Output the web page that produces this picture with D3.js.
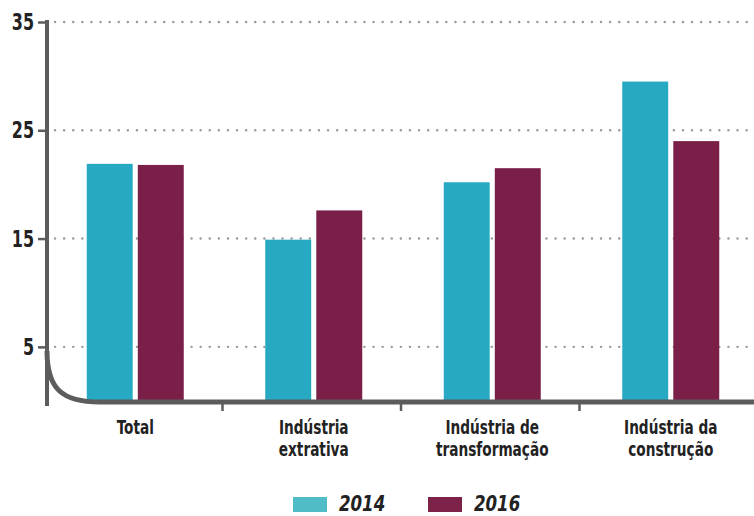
<!DOCTYPE html>
<html>
<head>
<meta charset="utf-8">
<script src="https://cdn.jsdelivr.net/npm/d3@7"></script>
<style>
  body { margin: 0; background: #fff; }
  svg { display: block; font-family: "DejaVu Sans Condensed", "DejaVu Sans", sans-serif; }
</style>
</head>
<body>
<div id="chart"></div>
<script>
// data (percent)
var categories = ["Total", "Indústria extrativa", "Indústria de transformação", "Indústria da construção"];
var labelLines = [["Total"], ["Indústria", "extrativa"], ["Indústria de", "transformação"], ["Indústria da", "construção"]];
var years = ["2014", "2016"];
var values2014 = [21.9, 14.9, 20.2, 29.5];
var values2016 = [21.8, 17.6, 21.5, 24.0];
var yTicks = [5, 15, 25, 35];

var colors = {"2014": "#28a9c3", "2016": "#7a1f47"};
var legendColors = {"2014": "#4fbcc7", "2016": "#7d2249"};
var axisColor = "#5c5c5c";

var width = 754, height = 516;

var svg = d3.select("#chart").append("svg")
    .attr("width", width)
    .attr("height", height);

var x = d3.scaleBand()
    .domain(categories)
    .range([46, 760]);

var sub = d3.scaleBand()
    .domain(years)
    .range([0, 97])
    .paddingInner(0.1);

var y = d3.scaleLinear()
    .domain([0, 35])
    .range([401, 22]);

// dotted grid
svg.selectAll("line.grid")
    .data(yTicks)
    .enter()
    .append("line")
    .attr("class", "grid")
    .attr("x1", 55)
    .attr("x2", width)
    .attr("y1", function(d) { return y(d); })
    .attr("y2", function(d) { return y(d); })
    .attr("stroke", "#9a9a9a")
    .attr("stroke-width", 2.4)
    .attr("stroke-linecap", "round")
    .attr("stroke-dasharray", "0.1,9");

// bars
var rows = categories.map(function(c, i) {
    return {cat: c, vals: [{year: "2014", v: values2014[i]}, {year: "2016", v: values2016[i]}]};
});

var groups = svg.selectAll("g.group")
    .data(rows)
    .enter()
    .append("g")
    .attr("class", "group")
    .attr("transform", function(d) {
        return "translate(" + (x(d.cat) + x.bandwidth() / 2 - 48.5) + ",0)";
    });

groups.selectAll("rect")
    .data(function(d) { return d.vals; })
    .enter()
    .append("rect")
    .attr("x", function(d) { return sub(d.year); })
    .attr("width", sub.bandwidth())
    .attr("y", function(d) { return y(d.v); })
    .attr("height", function(d) { return y(0) - y(d.v); })
    .attr("fill", function(d) { return colors[d.year]; });

// y axis ticks (labels drawn separately so they can be condensed)
var yAxis = d3.axisLeft(y)
    .tickValues(yTicks)
    .tickSize(8)
    .tickFormat("");

var yg = svg.append("g")
    .attr("transform", "translate(46,0)")
    .call(yAxis);
yg.select(".domain").remove();
yg.selectAll(".tick line").attr("stroke", axisColor).attr("stroke-width", 2.5);

svg.selectAll("g.ylabel")
    .data(yTicks)
    .enter()
    .append("g")
    .attr("class", "ylabel")
    .attr("transform", function(d) { return "translate(34," + (y(d) + 8) + ") scale(0.77,1)"; })
    .append("text")
    .attr("text-anchor", "end")
    .attr("fill", "#222")
    .style("font-size", "23px")
    .style("font-weight", "bold")
    .text(function(d) { return d; });

// vertical axis line + curved corner + baseline
svg.append("line")
    .attr("x1", 47).attr("x2", 47)
    .attr("y1", y(35) - 2).attr("y2", 406)
    .attr("stroke", axisColor)
    .attr("stroke-width", 4);

svg.append("path")
    .attr("d", "M47," + (y(0) - 50) + " C47," + (y(0) - 12) + " 62," + (y(0) + 1) + " 100," + (y(0) + 1) + " L" + width + "," + (y(0) + 1))
    .attr("fill", "none")
    .attr("stroke", axisColor)
    .attr("stroke-width", 5);

// separators between categories
svg.selectAll("line.sep")
    .data(categories.slice(1))
    .enter()
    .append("line")
    .attr("class", "sep")
    .attr("x1", function(d) { return x(d) - 2; })
    .attr("x2", function(d) { return x(d) - 2; })
    .attr("y1", y(0))
    .attr("y2", 411)
    .attr("stroke", axisColor)
    .attr("stroke-width", 2.5);

// category labels, one text per line
svg.selectAll("g.cat")
    .data(categories)
    .enter()
    .append("g")
    .attr("class", "cat")
    .each(function(d, i) {
        var g = d3.select(this);
        labelLines[i].forEach(function(line, j) {
            g.append("g")
                .attr("transform", "translate(" + (x(d) + x.bandwidth() / 2) + "," + (434 + j * 22) + ") scale(0.8,1)")
                .append("text")
                .attr("text-anchor", "middle")
                .attr("fill", "#222")
                .style("font-size", "19px")
                .style("font-weight", "bold")
                .text(line);
        });
    });

// legend
var legend = svg.selectAll("g.legend")
    .data(years)
    .enter()
    .append("g")
    .attr("class", "legend")
    .attr("transform", function(d, i) { return "translate(" + (293 + i * 135) + ",497)"; });

legend.append("rect")
    .attr("width", 34)
    .attr("height", 15)
    .attr("fill", function(d) { return legendColors[d]; });

legend.append("g")
    .attr("transform", "translate(46,14) scale(0.88,1)")
    .append("text")
    .attr("fill", "#222")
    .style("font-size", "21px")
    .style("font-weight", "bold")
    .style("font-style", "italic")
    .text(function(d) { return d; });
</script>
</body>
</html>
